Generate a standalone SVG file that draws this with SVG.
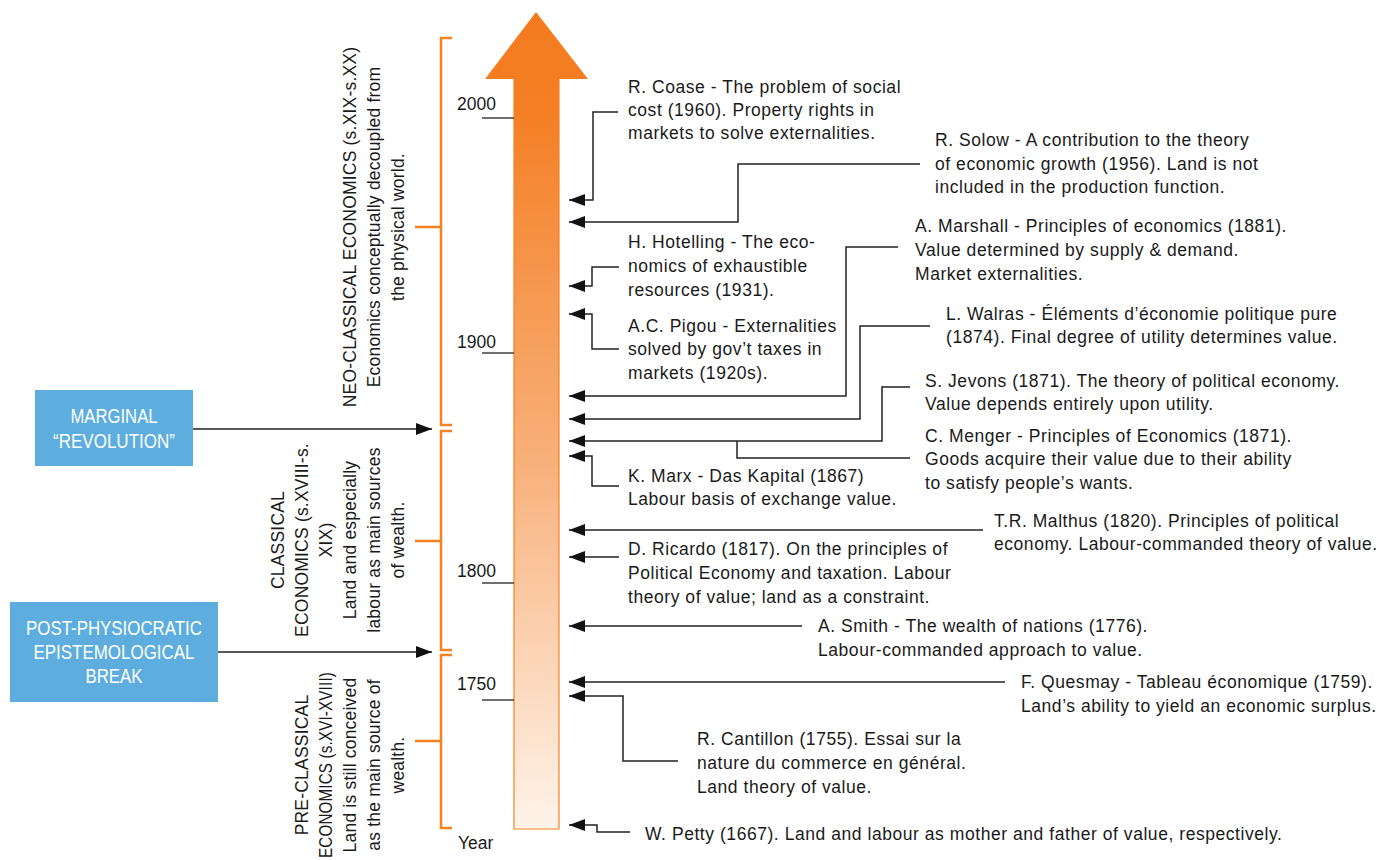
<svg xmlns="http://www.w3.org/2000/svg" width="1384" height="860" viewBox="0 0 1384 860">
<style>
.t{font-family:"Liberation Sans",Arial,sans-serif;font-size:17.5px;letter-spacing:0.55px;fill:#1a1a1a}
.r{font-family:"Liberation Sans",Arial,sans-serif;font-size:17.5px;letter-spacing:0.2px;fill:#1a1a1a;text-anchor:middle}
.b{font-family:"Liberation Sans",Arial,sans-serif;font-size:21px;fill:#ffffff;text-anchor:middle}
.c{fill:none;stroke:#222;stroke-width:1.5}
.k{fill:none;stroke:#F58220;stroke-width:2.5}
.y{font-family:"Liberation Sans",Arial,sans-serif;font-size:17.5px;fill:#1a1a1a}
.tick{stroke:#222;stroke-width:1.3}
</style>
<defs>
<linearGradient id="g" gradientUnits="userSpaceOnUse" x1="0" y1="12" x2="0" y2="829">
<stop offset="0" stop-color="#F47A1F"/>
<stop offset="0.12" stop-color="#F47F24"/>
<stop offset="0.55" stop-color="#F8B07A"/>
<stop offset="1" stop-color="#FFF4EA"/>
</linearGradient>
<marker id="a" markerUnits="userSpaceOnUse" markerWidth="16" markerHeight="12" refX="16" refY="6" orient="auto">
<path d="M0,0 L16,6 L0,12 z" fill="#111"/>
</marker>
</defs>
<rect width="1384" height="860" fill="#fff"/>

<g id="timeline-arrow">
<polygon points="536,12 588,79 559,79 559,829 514,829 514,79 485,79" fill="url(#g)"/>
<polyline points="514,79 514,829 559,829 559,79" fill="none" stroke="#F58220" stroke-width="1.2"/>
</g>

<g id="years">
<line class="tick" x1="482" y1="118" x2="514" y2="118"/>
<text class="y" x="457" y="110">2000</text>
<line class="tick" x1="482" y1="353" x2="514" y2="353"/>
<text class="y" x="457" y="348">1900</text>
<line class="tick" x1="482" y1="583" x2="514" y2="583"/>
<text class="y" x="457" y="577">1800</text>
<line class="tick" x1="482" y1="700" x2="514" y2="700"/>
<text class="y" x="457" y="690">1750</text>
<text class="y" x="458" y="849">Year</text>
</g>

<g id="bracket-neo">
<path class="k" d="M452,38 H441 V425 H452 M441,227 H415"/>
<text class="r" transform="translate(356,227) rotate(-90)">NEO-CLASSICAL ECONOMICS (s.XIX-s.XX)</text>
<text class="r" transform="translate(380,227) rotate(-90)">Economics conceptually decoupled from</text>
<text class="r" transform="translate(404,227) rotate(-90)">the physical world.</text>
</g>

<g id="bracket-classical">
<path class="k" d="M452,431 H441 V650 H452 M441,541 H415"/>
<text class="r" transform="translate(284,540) rotate(-90)">CLASSICAL</text>
<text class="r" transform="translate(308,540) rotate(-90)">ECONOMICS (s.XVIII-s.</text>
<text class="r" transform="translate(332,540) rotate(-90)">XIX)</text>
<text class="r" transform="translate(356,540) rotate(-90)">Land and especially</text>
<text class="r" transform="translate(380,540) rotate(-90)">labour as main sources</text>
<text class="r" transform="translate(404,540) rotate(-90)">of wealth.</text>
</g>

<g id="bracket-preclassical">
<path class="k" d="M452,655 H441 V828 H452 M441,741 H415"/>
<text class="r" transform="translate(308,765) rotate(-90)">PRE-CLASSICAL</text>
<text class="r" transform="translate(332,765) rotate(-90)" textLength="186" lengthAdjust="spacingAndGlyphs">ECONOMICS (s.XVI-XVIII)</text>
<text class="r" transform="translate(356,765) rotate(-90)">Land is still conceived</text>
<text class="r" transform="translate(380,765) rotate(-90)">as the main source of</text>
<text class="r" transform="translate(404,765) rotate(-90)">wealth.</text>
</g>

<g id="marginal-revolution">
<rect x="35" y="390" width="158" height="76" fill="#5DADDE"/>
<text class="b" x="114" y="423" textLength="87" lengthAdjust="spacingAndGlyphs">MARGINAL</text>
<text class="b" x="114" y="448" textLength="122" lengthAdjust="spacingAndGlyphs">“REVOLUTION”</text>
</g>

<g id="post-physiocratic">
<rect x="10" y="602" width="208" height="100" fill="#5DADDE"/>
<text class="b" x="114" y="635" textLength="176" lengthAdjust="spacingAndGlyphs">POST-PHYSIOCRATIC</text>
<text class="b" x="114" y="659" textLength="161" lengthAdjust="spacingAndGlyphs">EPISTEMOLOGICAL</text>
<text class="b" x="114" y="683" textLength="57" lengthAdjust="spacingAndGlyphs">BREAK</text>
</g>

<g id="coase"><text class="t" x="628" y="93">R. Coase - The problem of social</text><text class="t" x="628" y="116">cost (1960). Property rights in</text><text class="t" x="628" y="139">markets to solve externalities.</text></g>
<g id="solow"><text class="t" x="935" y="146">R. Solow - A contribution to the theory</text><text class="t" x="935" y="170">of economic growth (1956). Land is not</text><text class="t" x="935" y="193">included in the production function.</text></g>
<g id="marshall"><text class="t" x="915" y="232">A. Marshall - Principles of economics (1881).</text><text class="t" x="915" y="256">Value determined by supply &amp; demand.</text><text class="t" x="915" y="280">Market externalities.</text></g>
<g id="hotelling"><text class="t" x="628" y="248">H. Hotelling - The eco-</text><text class="t" x="628" y="272">nomics of exhaustible</text><text class="t" x="628" y="296">resources (1931).</text></g>
<g id="pigou"><text class="t" x="628" y="332">A.C. Pigou - Externalities</text><text class="t" x="628" y="355">solved by gov’t taxes in</text><text class="t" x="628" y="379">markets (1920s).</text></g>
<g id="walras"><text class="t" x="946" y="320">L. Walras - Éléments d’économie politique pure</text><text class="t" x="946" y="343">(1874). Final degree of utility determines value.</text></g>
<g id="jevons"><text class="t" x="925" y="387">S. Jevons (1871). The theory of political economy.</text><text class="t" x="925" y="410">Value depends entirely upon utility.</text></g>
<g id="menger"><text class="t" x="925" y="442">C. Menger - Principles of Economics (1871).</text><text class="t" x="925" y="465">Goods acquire their value due to their ability</text><text class="t" x="925" y="489">to satisfy people’s wants.</text></g>
<g id="marx"><text class="t" x="628" y="482">K. Marx - Das Kapital (1867)</text><text class="t" x="628" y="505">Labour basis of exchange value.</text></g>
<g id="malthus"><text class="t" x="994" y="527">T.R. Malthus (1820). Principles of political</text><text class="t" x="994" y="550">economy. Labour-commanded theory of value.</text></g>
<g id="ricardo"><text class="t" x="628" y="555">D. Ricardo (1817). On the principles of</text><text class="t" x="628" y="579">Political Economy and taxation. Labour</text><text class="t" x="628" y="603">theory of value; land as a constraint.</text></g>
<g id="smith"><text class="t" x="818" y="632">A. Smith - The wealth of nations (1776).</text><text class="t" x="818" y="656">Labour-commanded approach to value.</text></g>
<g id="quesmay"><text class="t" x="1021" y="688">F. Quesmay - Tableau économique (1759).</text><text class="t" x="1021" y="712">Land’s ability to yield an economic surplus.</text></g>
<g id="cantillon"><text class="t" x="697" y="745">R. Cantillon (1755). Essai sur la</text><text class="t" x="697" y="769">nature du commerce en général.</text><text class="t" x="697" y="793">Land theory of value.</text></g>
<g id="petty"><text class="t" x="645" y="840">W. Petty (1667). Land and labour as mother and father of value, respectively.</text></g>

<g id="connectors">
<path class="c" d="M193,429 H432" marker-end="url(#a)"/>
<path class="c" d="M218,652 H432" marker-end="url(#a)"/>
<path class="c" d="M618,112 H593 V200 H569" marker-end="url(#a)"/>
<path class="c" d="M920,164 H738 V222 H569" marker-end="url(#a)"/>
<path class="c" d="M619,267 H592 V286 H569" marker-end="url(#a)"/>
<path class="c" d="M619,349 H592 V314 H569" marker-end="url(#a)"/>
<path class="c" d="M898,247 H846 V396 H569" marker-end="url(#a)"/>
<path class="c" d="M930,326 H860 V419 H569" marker-end="url(#a)"/>
<path class="c" d="M910,387 H882 V441 H569" marker-end="url(#a)"/>
<path class="c" d="M910,458 H737 V441"/>
<path class="c" d="M619,486 H592 V456 H569" marker-end="url(#a)"/>
<path class="c" d="M983,530 H569" marker-end="url(#a)"/>
<path class="c" d="M619,557 H569" marker-end="url(#a)"/>
<path class="c" d="M802,626 H569" marker-end="url(#a)"/>
<path class="c" d="M1005,682 H569" marker-end="url(#a)"/>
<path class="c" d="M678,761 H623 V696 H569" marker-end="url(#a)"/>
<path class="c" d="M630,832 H597 V825 H569" marker-end="url(#a)"/>
</g>
</svg>
